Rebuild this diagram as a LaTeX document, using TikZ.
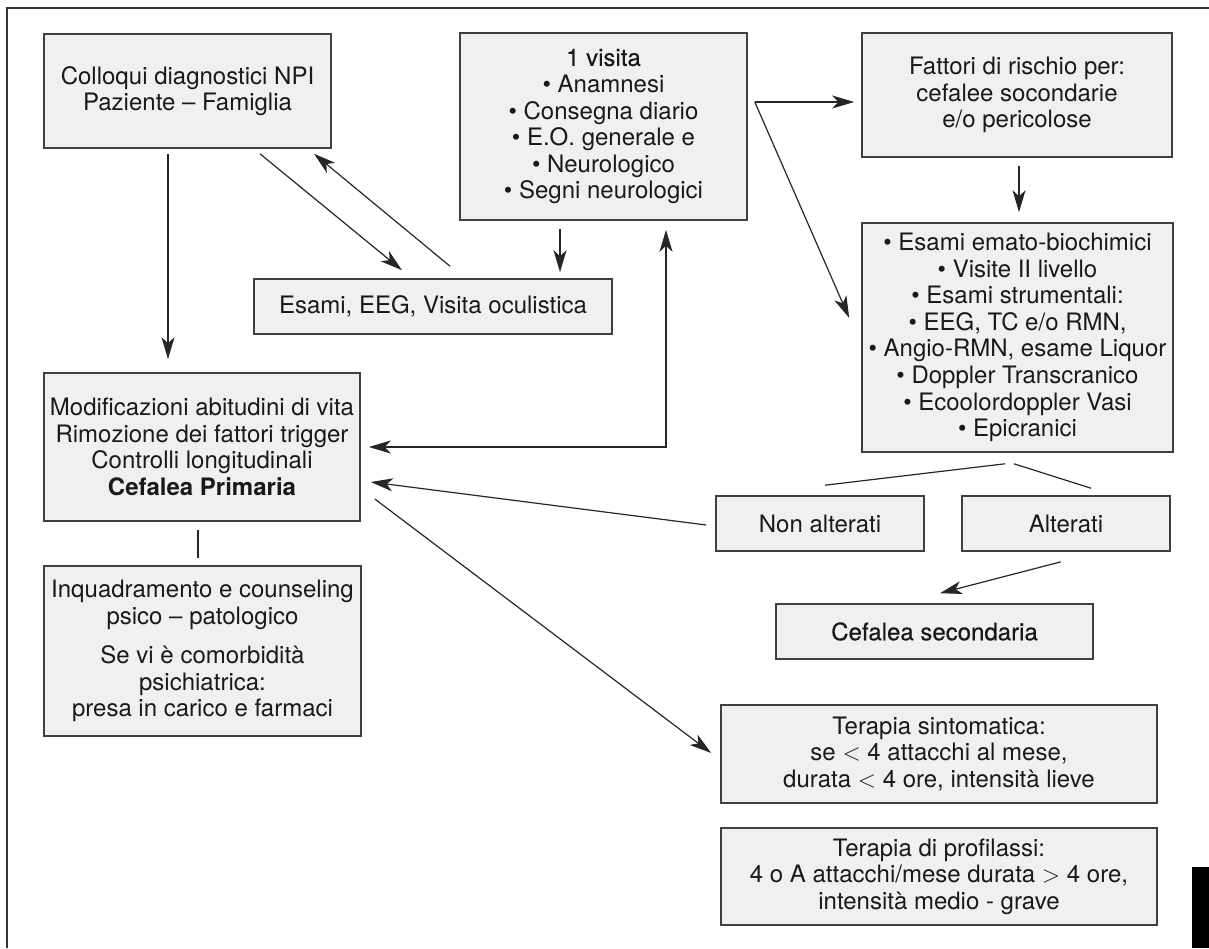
\documentclass[tikz,border=0pt]{standalone}
\usepackage{fontspec}
\setmainfont{TeX Gyre Heros}
\newfontfamily\medfont[FakeBold=0.4]{TeX Gyre Heros}
\usetikzlibrary{arrows.meta}

\begin{document}
\begin{tikzpicture}[
	x=0.5pt, y=-0.5pt,
	align=center,
	>={Stealth[length=11pt,width=6.5pt,inset=3pt]},
	line width=0.6pt,
	boxit/.style={
		draw=black!75,
		fill=black!6,
		line width=0.8pt,
		inner sep=0pt,
		text=black!90,
		font=\fontsize{12}{13.3}\selectfont
	},
	boxsize/.style 2 args={minimum width=#1, minimum height=#2},
	link/.style={draw=black!85}
	]
    \useasboundingbox (0,0) rectangle (1209,948);
    % frame
    \draw[line width=1pt, black!80] (1209,8) -- (7,8) -- (7,948);
    \fill[black] (1192,867) rectangle (1209,948);

    % first visit
    \node[boxit, boxsize={143.5pt}{57pt}] at (187.5,91) (colloqui) {Colloqui diagnostici NPI\\Paziente -- Famiglia};
    \node[boxit, boxsize={143.5pt}{93.5pt}] at (603.5,126.5) (visita) {{\medfont 1 visita}\\\textbullet{} Anamnesi\\\textbullet{} Consegna diario\\\textbullet{} E.O. generale e\\\textbullet{} Neurologico\\\textbullet{} Segni neurologici};
    \node[boxit, boxsize={179pt}{27.5pt}] at (433,306.5) (eeg) {Esami, EEG, Visita oculistica};

    % risk factors
    \node[boxit, boxsize={155pt}{62pt}] at (1017,95) (rischio) {Fattori di rischio per:\\cefalee socondarie\\e/o pericolose};
    \node[boxit, boxsize={155.5pt}{114.5pt}] at (1017.5,337.5) (esami) {\textbullet{} Esami emato-biochimici\\\textbullet{} Visite II livello\\\textbullet{} Esami strumentali:\\\textbullet{} EEG, TC e/o RMN,\\\textbullet{} Angio-RMN, esame Liquor\\\textbullet{} Doppler Transcranico\\\textbullet{} Ecoolordoppler Vasi\\\textbullet{} Epicranici};
    \node[boxit, boxsize={104pt}{27.5pt}] at (820,523.5) (nonalt) {Non alterati};
    \node[boxit, boxsize={104pt}{27.5pt}] at (1066,523.5) (alt) {Alterati};
    \node[boxit, boxsize={158.5pt}{27.5pt}] at (934.5,631.5) (secondaria) {{\medfont Cefalea secondaria}};

    % primary headache
    \node[boxit, boxsize={158pt}{74pt}] at (202,447) (primaria) {Modificazioni abitudini di vita\\Rimozione dei fattori trigger\\Controlli longitudinali\\\textbf{Cefalea Primaria}};
    \node[boxit, boxsize={158.5pt}{85pt}] at (202.5,651) (counseling) {Inquadramento e counseling\\psico -- patologico\\[6.5pt]Se vi è comorbidità\\psichiatrica:\\presa in carico e farmaci};

    % therapy
    \node[boxit, boxsize={218pt}{49pt}] at (939,754) (sintomatica) {Terapia sintomatica:\\se $<$ 4 attacchi al mese,\\durata $<$ 4 ore, intensità lieve};
    \node[boxit, boxsize={218pt}{48.5pt}] at (939,876.5) (profilassi) {Terapia di profilassi:\\4 o A attacchi/mese durata $>$ 4 ore,\\intensità medio - grave};

    % connectors
    \draw[link, ->] ([shift={(-19.5,5)}]colloqui.south) -- ([shift={(-34,-13)}]primaria.north);
    \draw[link, ->] ([shift={(72.5,5)}]colloqui.south) -- ([shift={(-31,-8)}]eeg.north);
    \draw[link, ->] ([shift={(17,-12)}]eeg.north) -- ([shift={(126.5,5)}]colloqui.south);
    \draw[link, ->] ([shift={(-43.5,8)}]visita.south) -- ([shift={(127,-6)}]eeg.north);
    \draw[link, <->, line width=0.75pt] ([shift={(8,0)}]primaria.east) -| ([shift={(62.5,9)}]visita.south);
    \draw[link, ->] ([shift={(7,-24.5)}]visita.east) -- ([shift={(-7,7)}]rischio.west);
    \draw[link, ->] ([shift={(7,-24.5)}]visita.east) -- ([shift={(-12,-19.5)}]esami.west);
    \draw[link, ->] ([shift={(2,8)}]rischio.south) -- ([shift={(1.5,-10)}]esami.north);
    \draw[link] ([shift={(-12.5,11)}]esami.south) -- ([shift={(5,-10)}]nonalt.north);
    \draw[link] ([shift={(-3.5,11)}]esami.south) -- ([shift={(25,-7)}]alt.north);
    \draw[link, ->] ([shift={(-9,1.5)}]nonalt.west) -- ([shift={(10,35)}]primaria.east);
    \draw[link, ->] ([shift={(-5,10)}]alt.south) -- ([shift={(5.5,-10)}]secondaria.north);
    \draw[link, ->] ([shift={(14,52)}]primaria.east) -- ([shift={(-9,-1)}]sintomatica.west);
    \draw[link, line width=1.2pt] ([shift={(-4,8)}]primaria.south) -- ([shift={(-4.5,-7)}]counseling.north);
\end{tikzpicture}
\end{document}
